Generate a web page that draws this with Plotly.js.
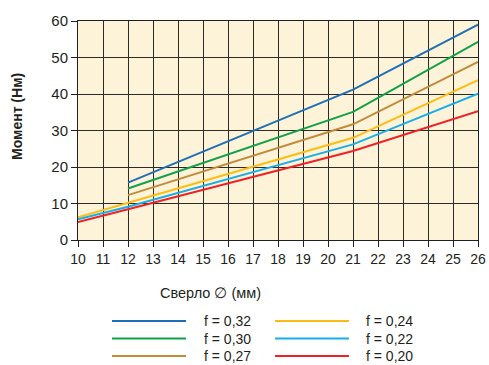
<!DOCTYPE html>
<html><head><meta charset="utf-8">
<script src="https://cdn.plot.ly/plotly-3.0.1.min.js"></script>
<style>body{margin:0;background:#fff}#c{width:489px;height:365px}</style>
</head><body><div id="c"></div>
<script>
const xShort = [12, 21, 26];
const xLong = [10, 12, 21, 26];
const f032 = [15.7, 41.2, 59.0];
const f030 = [14.1, 35.1, 54.3];
const f027 = [12.3, 31.7, 48.8];
const f024 = [6.2, 10.2, 28.0, 43.8];
const f022 = [5.7, 9.1, 26.2, 40.1];
const f020 = [4.9, 8.4, 24.4, 35.3];
const seriesNames = ['f = 0,32','f = 0,30','f = 0,27','f = 0,24','f = 0,22','f = 0,20'];
const seriesColors = ['#1f6fb5','#14a04b','#c08c3c','#fbbd15','#18aee8','#ec2227'];
const seriesX = [xShort, xShort, xShort, xLong, xLong, xLong];
const seriesY = [f032, f030, f027, f024, f022, f020];
const xTicks = [10,11,12,13,14,15,16,17,18,19,20,21,22,23,24,25,26];
const yTicks = [0,10,20,30,40,50,60];

const W=489, H=365, ml=78, mr=11, mt=21, mb=125;
const pw=W-ml-mr, ph=H-mt-mb;
const px = p => (p-ml)/pw;
const py = p => (H-mb-p)/ph;

const traces = seriesY.map((y,i)=>({
  x: seriesX[i], y: y, type:'scatter', mode:'lines', name: seriesNames[i],
  line:{color:seriesColors[i], width:2}, showlegend:false, hoverinfo:'skip'
}));

const shapes=[], annotations=[];
const legendCols=[[112,186,202],[275,349,364]];
const legendRows=[321,338.5,356];
seriesNames.forEach((n,i)=>{
  const col=legendCols[Math.floor(i/3)], row=legendRows[i%3];
  shapes.push({type:'line', xref:'paper', yref:'paper', x0:px(col[0]), x1:px(col[1]), y0:py(row), y1:py(row),
    line:{color:seriesColors[i], width:2}});
  annotations.push({xref:'paper', yref:'paper', x:px(col[2]), y:py(row), xanchor:'left', yanchor:'middle',
    text:n, showarrow:false, font:{family:'Liberation Sans, Arial', size:14, color:'#231f20'}});
});
annotations.push({xref:'paper', yref:'paper', x:px(210), y:py(293), xanchor:'center', yanchor:'middle',
  text:'Сверло ∅ (мм)', showarrow:false, font:{family:'Liberation Sans, Arial', size:14.5, color:'#231f20'}});
annotations.push({xref:'paper', yref:'paper', x:px(17), y:py(117), xanchor:'center', yanchor:'middle', textangle:-90,
  text:'<b>Момент (Нм)</b>', showarrow:false, font:{family:'Liberation Sans, Arial', size:14, color:'#231f20'}});

const layout = {
  width:W, height:H, margin:{l:ml, r:mr, t:mt, b:mb},
  paper_bgcolor:'#ffffff', plot_bgcolor:'#fdf3d8',
  font:{family:'Liberation Sans, Arial', size:14, color:'#231f20'},
  xaxis:{range:[10,26], tickvals:xTicks, ticktext:xTicks.map(String), showgrid:true, gridcolor:'#2e2a26', gridwidth:1,
    zeroline:false, showline:true, linecolor:'#231f20', linewidth:1, mirror:true,
    ticks:'outside', ticklen:6, tickcolor:'#231f20', tickfont:{size:14}},
  yaxis:{range:[0,60], tickvals:yTicks, ticktext:yTicks.map(String), showgrid:true, gridcolor:'#2e2a26', gridwidth:1,
    zeroline:false, showline:true, linecolor:'#231f20', linewidth:1, mirror:true,
    ticks:'outside', ticklen:6, tickcolor:'#231f20', tickfont:{size:15}},
  shapes:shapes, annotations:annotations, showlegend:false
};
Plotly.newPlot('c', traces, layout, {staticPlot:true, displayModeBar:false});
</script></body></html>
